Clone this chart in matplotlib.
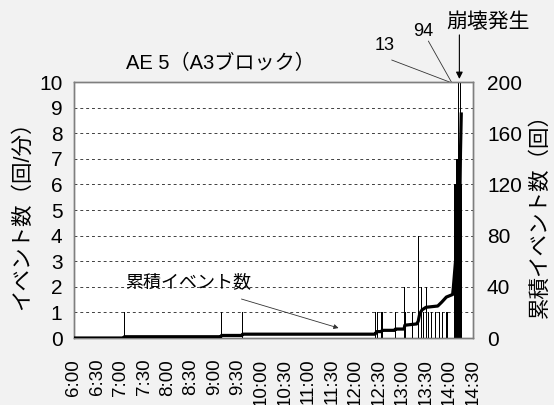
import matplotlib
matplotlib.use("Agg")
import matplotlib.pyplot as plt

plt.rcParams['font.family'] = ['Liberation Sans', 'Noto Sans CJK JP', 'DejaVu Sans']

# AE events per minute (time, count)
bar_times = ["7:04", "9:08", "9:35", "12:25", "12:27", "12:33", "12:34", "12:50",
             "13:02", "13:03", "13:12", "13:20", "13:23", "13:26", "13:30", "13:32",
             "13:37", "13:42", "13:47", "13:51", "13:55", "13:57",
             "14:06", "14:07", "14:08", "14:09", "14:10", "14:11", "14:12", "14:13",
             "14:14", "14:15"]
bar_counts = [1, 1, 1, 1, 1, 1, 1, 1,
              2, 1, 1, 4, 2, 1, 2, 1,
              1, 1, 1, 1, 1, 1,
              6, 6, 7, 7, 7, 13, 6, 6,
              94, 6]

# cumulative event count (time, total)
cum_times = ["6:00", "7:04", "7:05", "9:08", "9:09", "9:35", "9:36", "12:25", "12:26",
             "12:27", "12:33", "12:34", "12:50", "12:51", "13:02", "13:03", "13:18",
             "13:20", "13:22", "13:25", "13:30", "13:45", "13:50", "13:56", "14:00",
             "14:04", "14:05", "14:07", "14:09", "14:11", "14:13", "14:14", "14:15"]
cum_counts = [0, 0, 1, 1, 2, 2, 3, 3, 4,
              5, 5, 6, 6, 7, 7, 10, 11,
              13, 19, 22, 24, 25, 28, 32, 33,
              34, 40, 55, 70, 85, 100, 145, 175]

tick_labels = ["6:00", "6:30", "7:00", "7:30", "8:00", "8:30", "9:00", "9:30", "10:00",
               "10:30", "11:00", "11:30", "12:00", "12:30", "13:00", "13:30", "14:00", "14:30"]


def to_h(s):
    h, m = s.split(":")
    return int(h) + int(m) / 60.0


bx = [to_h(t) for t in bar_times]
cx = [to_h(t) for t in cum_times]
tx = [to_h(t) for t in tick_labels]

fig = plt.figure(figsize=(5.54, 4.05), dpi=100, facecolor='#f2f2f2')
ax = fig.add_axes([0.1327, 0.1654, 0.7211, 0.6321])
ax.set_facecolor('white')
ax2 = ax.twinx()

ax.vlines(bx, 0, bar_counts, colors='black', lw=0.72, antialiased=False, zorder=3)
ax2.plot(cx, cum_counts, color='black', lw=2.3, solid_joinstyle='round', zorder=4)

ax.set_xlim(6, 14.5)
ax.set_ylim(0, 10)
ax2.set_ylim(0, 200)

ax.set_xticks(tx)
ax.set_xticklabels(tick_labels, rotation=90, fontsize=13.5, va='top')
ax.set_xticks(range(7, 15), minor=True)
ax.tick_params(axis='x', which='major', length=0, pad=15)
ax.tick_params(axis='x', which='minor', length=5, color='#7f7f7f', direction='out')
ax.set_yticks(range(0, 11))
ax.tick_params(axis='y', length=0, labelsize=15, pad=8)
ax2.set_yticks(range(0, 201, 40))
ax2.tick_params(axis='y', length=0, labelsize=15, pad=10)

ax.grid(True, which='minor', axis='x', color='#404040', ls=(0, (3, 3)), lw=0.7)
ax.grid(True, which='major', axis='y', color='#404040', ls=(0, (3, 3)), lw=0.7)
ax.set_axisbelow(True)
for a in (ax, ax2):
    for sp in a.spines.values():
        sp.set_color('#7f7f7f')
        sp.set_linewidth(1.0)

ax.set_ylabel("イベント数（回/分）", fontsize=15.5, va='center')
ax.yaxis.set_label_coords(-0.128, 0.5)
ax2.set_ylabel("累積イベント数（回）", fontsize=15.5, rotation=90, va='center')
ax2.yaxis.set_label_coords(1.168, 0.5)

fig.text(220 / 554, 1 - 63 / 405, "AE 5（A3ブロック）", fontsize=14.5, ha='center', va='center')

ax.annotate("累積イベント数", xy=(11.64, 0.39), xytext=(8.43, 2.15), fontsize=13,
            ha='center', va='center',
            arrowprops=dict(arrowstyle='-|>', lw=0.6, color='#333333', mutation_scale=7,
                            shrinkA=12, shrinkB=0))

ax.annotate("", xy=(14.0, 10.0), xytext=(12.77, 10.86), annotation_clip=False,
            arrowprops=dict(arrowstyle='-', lw=0.6, color='#333333', shrinkA=0, shrinkB=0))
ax.text(12.62, 11.41, "13", fontsize=13, ha='center', va='center', clip_on=False)
ax.annotate("", xy=(14.04, 10.0), xytext=(13.55, 11.6), annotation_clip=False,
            arrowprops=dict(arrowstyle='-', lw=0.6, color='#333333', shrinkA=0, shrinkB=0))
ax.text(13.45, 11.99, "94", fontsize=13, ha='center', va='center', clip_on=False)
ax.annotate("", xy=(14.21, 10.12), xytext=(14.21, 11.84), annotation_clip=False,
            arrowprops=dict(arrowstyle='-|>', lw=0.8, color='black', mutation_scale=10,
                            shrinkA=0, shrinkB=0))
ax.text(14.81, 12.34, "崩壊発生", fontsize=15, ha='center', va='center', clip_on=False)

fig.savefig("out.png", dpi=100, facecolor=fig.get_facecolor())
